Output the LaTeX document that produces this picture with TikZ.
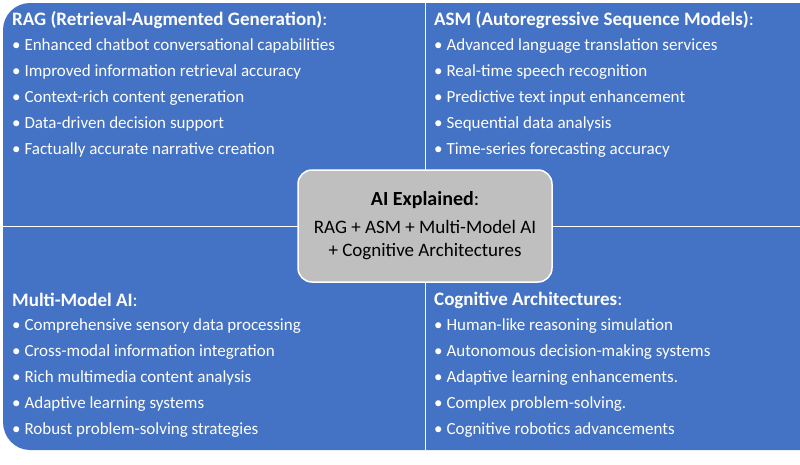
\documentclass[tikz,border=0pt]{standalone}
\usepackage{fontspec}
\setmainfont{Carlito}
\definecolor{panelblue}{HTML}{4472C4}
\definecolor{hubgrey}{HTML}{BFBFBF}
\tikzset{
  heading/.style={anchor=west, text=white, font=\fontsize{19}{21}\selectfont, inner sep=0pt},
  item/.style={anchor=west, text=white, font=\fontsize{17}{19}\selectfont, inner sep=0pt},
  hub/.style={draw=white, line width=1.5pt, fill=hubgrey, rounded corners=14pt,
    minimum width=254pt, minimum height=112pt, align=center, font=\fontsize{19}{23}\selectfont}
}
\begin{document}
\begin{tikzpicture}[x=1pt, y=-1pt]
    \useasboundingbox (0, 0) rectangle (800, 464);
    % blue field, rounded on the left side only
    \fill[panelblue] (800, 3) -- (30, 3) to[out=180, in=90] (3, 30) -- (3, 422)
      to[out=-90, in=180] (30, 450) -- (800, 450) -- cycle;
    \coordinate (top) at (425, 3);
    \coordinate (bot) at (425, 450);
    \coordinate (lft) at (3, 226);
    \coordinate (rgt) at (800, 226);
    \draw[white, line width=1pt] (top) -- (bot);
    \draw[white, line width=1pt] (lft) -- (rgt);

    \node[heading] (ragT) at (12, 20) {\textbf{RAG (Retrieval-Augmented Generation)}:};
    \node[heading] (asmT) at (434, 20) {\textbf{ASM (Autoregressive Sequence Models)}:};
    \node[heading] (mmT) at (12, 300) {\textbf{Multi-Model AI}:};
    \node[heading] (caT) at (434, 300) {\textbf{Cognitive Architectures}:};

    \foreach \t [count=\i] in {Enhanced chatbot conversational capabilities,
        Improved information retrieval accuracy, Context-rich content generation,
        Data-driven decision support, Factually accurate narrative creation}
      \node[item] (rag\i) at (12, 20+26*\i) {\textbullet\ \t};
    \foreach \t [count=\i] in {Advanced language translation services,
        Real-time speech recognition, Predictive text input enhancement,
        Sequential data analysis, Time-series forecasting accuracy}
      \node[item] (asm\i) at (434, 20+26*\i) {\textbullet\ \t};
    \foreach \t [count=\i] in {Comprehensive sensory data processing,
        Cross-modal information integration, Rich multimedia content analysis,
        Adaptive learning systems, Robust problem-solving strategies}
      \node[item] (mm\i) at (12, 300+26*\i) {\textbullet\ \t};
    \foreach \t [count=\i] in {Human-like reasoning simulation,
        Autonomous decision-making systems, Adaptive learning enhancements.,
        Complex problem-solving., Cognitive robotics advancements}
      \node[item] (ca\i) at (434, 300+26*\i) {\textbullet\ \t};

    \node[hub] (hub) at (425, 226) {\fontsize{20}{22}\selectfont\textbf{AI Explained}:\\[5pt]
      RAG + ASM + Multi-Model AI\\+ Cognitive Architectures};
  \end{tikzpicture}
\end{document}
